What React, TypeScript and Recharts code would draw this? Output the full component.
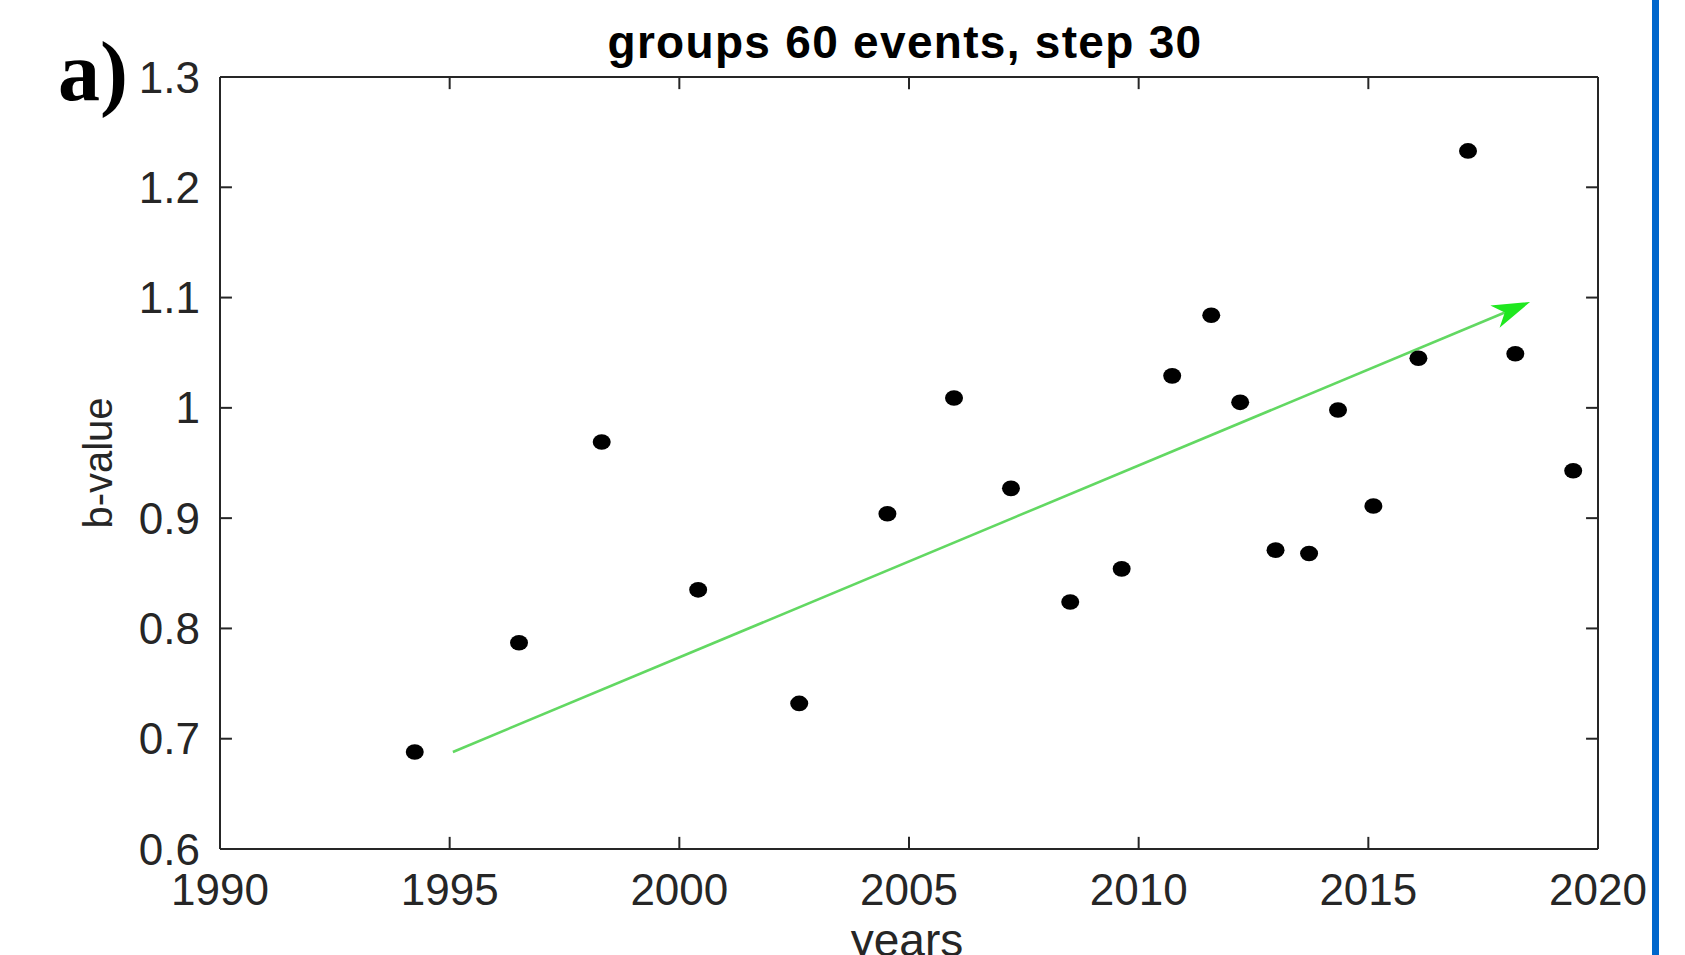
import { ReferenceLine, Scatter, ScatterChart, XAxis, YAxis } from 'recharts'

// b-value per 60-event group (window centre year)
const years = [
  1994.24, 1996.51, 1998.31, 2000.41, 2002.61, 2004.53, 2005.98, 2007.22, 2008.51, 2009.63, 2010.73,
  2011.58, 2012.21, 2012.98, 2013.71, 2014.34, 2015.11, 2016.09, 2017.17, 2018.2, 2019.46,
]
const bValues = [
  0.688, 0.787, 0.969, 0.835, 0.732, 0.904, 1.009, 0.927, 0.824, 0.854, 1.029,
  1.084, 1.005, 0.871, 0.868, 0.998, 0.911, 1.045, 1.233, 1.049, 0.943,
]
const xTicks = [1990, 1995, 2000, 2005, 2010, 2015, 2020]
const yTicks = [0.6, 0.7, 0.8, 0.9, 1.0, 1.1, 1.2, 1.3]
const trendStart = { year: 1995.07, b: 0.688 }
const trendEnd = { year: 2018.52, b: 1.096 }

const points = years.map((year, i) => ({ year, b: bValues[i] }))

const W = 1685
const H = 955
const axisColor = '#262626'
const font = '"Liberation Sans", Arial, sans-serif'
// inward tick length, in data units (~12px)
const xTickLen = 0.26
const yTickLen = 0.011

const Dot = (props: any) => {
  const { cx, cy } = props
  if (cx == null || cy == null) return null
  return <ellipse cx={cx} cy={cy} rx={9} ry={7.8} fill="#000" />
}

const Arrow = (props: any) => {
  const { x1, y1, x2, y2 } = props
  const dx = x2 - x1
  const dy = y2 - y1
  const len = Math.sqrt(dx * dx + dy * dy)
  const ux = dx / len
  const uy = dy / len
  const headL = 38
  const headW = 12
  const bx = x2 - ux * headL
  const by = y2 - uy * headL
  const nx = x2 - ux * headL * 0.72
  const ny = y2 - uy * headL * 0.72
  const pts = [
    [x2, y2],
    [bx - uy * headW, by + ux * headW],
    [nx, ny],
    [bx + uy * headW, by - ux * headW],
  ]
  return (
    <g>
      <line x1={x1} y1={y1} x2={nx} y2={ny} stroke="#62d862" strokeWidth={2.6} />
      <polygon points={pts.map((p) => p.join(',')).join(' ')} fill="#1fe81f" />
    </g>
  )
}

export default function App() {
  return (
    <div style={{ position: 'absolute', left: 0, top: 0, width: W, height: H, overflow: 'hidden', background: '#fff' }}>
      <ScatterChart width={W} height={H} margin={{ top: 77, right: 87, bottom: 46, left: 120 }}>
        <XAxis
          type="number"
          dataKey="year"
          domain={[1990, 2020]}
          ticks={xTicks}
          height={60}
          tickLine={false}
          tickSize={0}
          tickMargin={25}
          axisLine={{ stroke: axisColor, strokeWidth: 2 }}
          tick={{ fill: axisColor, fontSize: 44, fontFamily: font }}
        />
        <YAxis
          type="number"
          dataKey="b"
          domain={[0.6, 1.3]}
          ticks={yTicks}
          width={100}
          tickLine={false}
          tickSize={0}
          tickMargin={20}
          tickFormatter={(v: number) => String(+v.toFixed(1))}
          axisLine={{ stroke: axisColor, strokeWidth: 2 }}
          tick={{ fill: axisColor, fontSize: 44, fontFamily: font }}
        />
        <ReferenceLine y={1.3} stroke={axisColor} strokeWidth={2} />
        <ReferenceLine x={2020} stroke={axisColor} strokeWidth={2} />
        {xTicks.slice(1, -1).map((t) => (
          <ReferenceLine key={'b' + t} segment={[{ x: t, y: 0.6 }, { x: t, y: 0.6 + yTickLen }]} stroke={axisColor} strokeWidth={2} />
        ))}
        {xTicks.slice(1, -1).map((t) => (
          <ReferenceLine key={'t' + t} segment={[{ x: t, y: 1.3 }, { x: t, y: 1.3 - yTickLen }]} stroke={axisColor} strokeWidth={2} />
        ))}
        {yTicks.slice(1, -1).map((t) => (
          <ReferenceLine key={'l' + t} segment={[{ x: 1990, y: t }, { x: 1990 + xTickLen, y: t }]} stroke={axisColor} strokeWidth={2} />
        ))}
        {yTicks.slice(1, -1).map((t) => (
          <ReferenceLine key={'r' + t} segment={[{ x: 2020, y: t }, { x: 2020 - xTickLen, y: t }]} stroke={axisColor} strokeWidth={2} />
        ))}
        <ReferenceLine
          segment={[{ x: trendStart.year, y: trendStart.b }, { x: trendEnd.year, y: trendEnd.b }]}
          shape={Arrow}
        />
        <Scatter data={points} shape={Dot} isAnimationActive={false} />
      </ScatterChart>
      <svg width={W} height={H} style={{ position: 'absolute', left: 0, top: 0, pointerEvents: 'none' }}>
        <text x={58} y={100} fontFamily='"Liberation Serif", "Times New Roman", serif' fontWeight="bold" fontSize={84} fill="#000">
          a)
        </text>
        <text x={905} y={58} textAnchor="middle" fontFamily={font} fontWeight="bold" fontSize={46} letterSpacing={1.3} fill="#000">
          groups 60 events, step 30
        </text>
        <text x={907} y={956} textAnchor="middle" fontFamily={font} fontSize={46} fill={axisColor}>
          years
        </text>
        <text x={112} y={463} transform="rotate(-90 112 463)" textAnchor="middle" fontFamily={font} fontSize={40} fill={axisColor}>
          b-value
        </text>
        <rect x={1652} y={0} width={7} height={H} fill="#0066cc" />
      </svg>
    </div>
  )
}
